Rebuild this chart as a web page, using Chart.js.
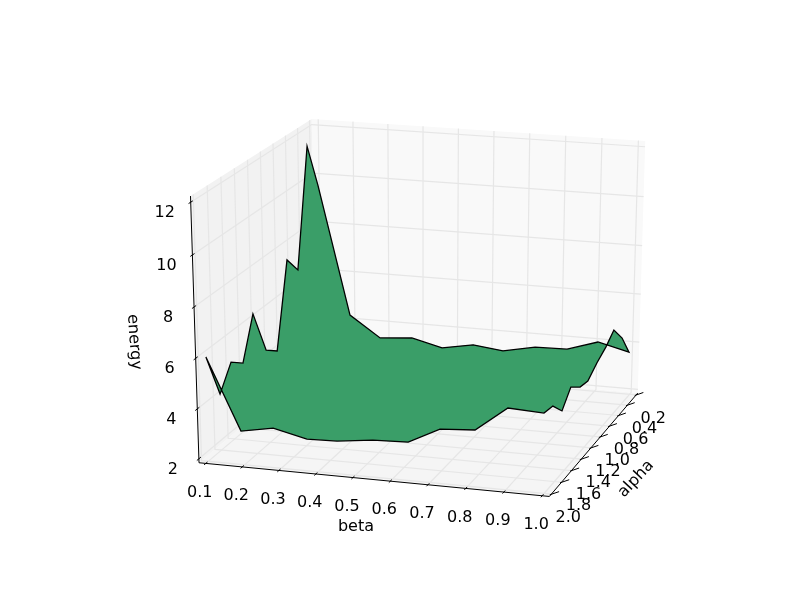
<!DOCTYPE html>
<html>
<head>
<meta charset="utf-8">
<script src="https://cdn.jsdelivr.net/npm/chart.js@4"></script>
<style>
  body { margin: 0; background: #fff; }
  canvas { display: block; }
</style>
</head>
<body>
<canvas id="c" width="812" height="612"></canvas>
<script>
var betaTicks = [0.1, 0.2, 0.3, 0.4, 0.5, 0.6, 0.7, 0.8, 0.9, 1.0];
var alphaTicks = [0.2, 0.4, 0.6, 0.8, 1.0, 1.2, 1.4, 1.6, 1.8, 2.0];
var energyTicks = [2, 4, 6, 8, 10, 12];

// outline of the surface
var surfAlpha = [2.0, 2.0, 2.0, 2.0, 2.0, 2.0, 2.0, 2.0, 2.0, 2.0,
  1.9, 1.72, 1.55, 1.37, 1.2, 1.03, 0.85, 0.66, 0.48, 0.32,
  0.2, 0.2, 0.2, 0.2, 0.2, 0.2, 0.2, 0.2, 0.2, 0.2,
  0.26, 0.42, 0.56, 0.73, 0.89, 1.06, 1.27, 1.43, 1.62, 1.79];
var surfBeta = [0.102, 0.192, 0.280, 0.371, 0.452, 0.548, 0.642, 0.726, 0.818, 0.903,
  0.983, 0.982, 0.984, 0.983, 0.986, 0.985, 0.986, 0.986, 0.985, 0.989,
  0.995, 0.907, 0.820, 0.729, 0.637, 0.551, 0.461, 0.373, 0.280, 0.192,
  0.113, 0.111, 0.103, 0.102, 0.097, 0.096, 0.099, 0.097, 0.099, 0.098];
var surfEnergy = [6.00, 3.18, 3.42, 3.11, 3.14, 3.31, 3.36, 3.99, 4.08, 5.05,
  4.74, 4.62, 4.06, 4.62, 4.26, 4.14, 4.50, 4.76, 5.10, 4.45,
  3.62, 3.94, 3.53, 3.50, 3.23, 3.38, 3.14, 3.45, 3.34, 4.21,
  9.70, 11.55, 6.70, 7.43, 3.96, 4.34, 6.25, 4.57, 5.01, 4.08];

// view of the 3d box, same maths as mplot3d (elev 20, azim 17, dist 10)
var az = 17 * Math.PI / 180, el = 20 * Math.PI / 180;
var sa = Math.sin(az), ca = Math.cos(az), se = Math.sin(el), ce = Math.cos(el);
var Kx = 3430, Ky = 2647, X0 = 425.4, Y0 = 299.5;

function project(alpha, beta, energy) {
  var a = (alpha - 0.2) / 1.8 - 0.5;
  var b = (beta - 0.1) / 0.9 - 0.5;
  var c = (energy - 2.048) / 9.975 - 0.5;
  var d = 10 - (ce * ca * a + ce * sa * b + se * c);
  return { x: (-sa * a + ca * b) / d, y: (-se * ca * a - se * sa * b + ce * c) / d };
}

function seg(pts, color, w) {
  return { data: pts, showLine: true, borderColor: color, borderWidth: w, pointRadius: 0, tension: 0 };
}
function pane(pts, col) {
  var s = seg(pts, col, 0);
  s.polyFill = col;
  return s;
}

// box limits, 1/48 past the data on each side
var A0 = 0.2 - 1.8 / 48, A1 = 2.0 + 1.8 / 48;
var B0 = 0.1 - 0.9 / 48, B1 = 1.0 + 0.9 / 48;
var E0 = 2.048 - 9.975 / 48, E1 = 12.023 + 9.975 / 48;

// first dataset ends up on top
var ds = [];
var surface = seg(surfAlpha.map(function (v, i) { return project(v, surfBeta[i], surfEnergy[i]); }), "#000", 1.3);
surface.polyFill = "#3a9e68";
surface.data.push(surface.data[0]);
ds.push(surface);

ds.push(seg([project(A1, B0, E0), project(A1, B1, E0), project(A0, B1, E0)], "#000", 1));
ds.push(seg([project(A1, B0, E0), project(A1, B0, E1)], "#000", 1));
betaTicks.forEach(function (t) {
  ds.push(seg([project(A1 + 0.025, t, E0), project(A1 - 0.025, t, E0)], "#000", 1));
});
alphaTicks.forEach(function (t) {
  ds.push(seg([project(t, B1 - 0.004, E0 - 0.03), project(t, B1 + 0.02, E0 + 0.13)], "#000", 1));
});
energyTicks.forEach(function (t) {
  ds.push(seg([project(A1 + 0.03, B0, t), project(A1 - 0.03, B0, t)], "#000", 1));
});

betaTicks.forEach(function (t) {
  ds.push(seg([project(A1, t, E0), project(A0, t, E0), project(A0, t, E1)], "#e6e6e6", 1.2));
});
alphaTicks.forEach(function (t) {
  ds.push(seg([project(t, B1, E0), project(t, B0, E0), project(t, B0, E1)], "#e6e6e6", 1.2));
});
energyTicks.forEach(function (t) {
  ds.push(seg([project(A1, B0, t), project(A0, B0, t), project(A0, B1, t)], "#e6e6e6", 1.2));
});

ds.push(pane([project(A0, B0, E0), project(A0, B1, E0), project(A0, B1, E1), project(A0, B0, E1)], "#f9f9f9"));
ds.push(pane([project(A0, B0, E0), project(A1, B0, E0), project(A1, B0, E1), project(A0, B0, E1)], "#f2f2f2"));
ds.push(pane([project(A0, B0, E0), project(A1, B0, E0), project(A1, B1, E0), project(A0, B1, E0)], "#f5f5f5"));

var polyFill = {
  id: "polyFill",
  beforeDatasetDraw: function (chart, args) {
    var col = chart.data.datasets[args.index].polyFill;
    if (!col) return;
    var ctx = chart.ctx;
    ctx.save();
    ctx.beginPath();
    args.meta.data.forEach(function (p, i) {
      if (i) ctx.lineTo(p.x, p.y); else ctx.moveTo(p.x, p.y);
    });
    ctx.closePath();
    ctx.fillStyle = col;
    ctx.fill();
    ctx.restore();
  }
};

var boxLabels = {
  id: "boxLabels",
  afterDraw: function (chart) {
    var ctx = chart.ctx, sx = chart.scales.x, sy = chart.scales.y;
    function put(p, dx, dy, txt) {
      ctx.textAlign = "center";
      ctx.fillText(txt, sx.getPixelForValue(p.x) + dx, sy.getPixelForValue(p.y) + dy);
    }
    function title(x, y, rot, txt) {
      ctx.save();
      ctx.translate(x, y);
      ctx.rotate(rot * Math.PI / 180);
      ctx.textAlign = "center";
      ctx.fillText(txt, 0, 0);
      ctx.restore();
    }
    ctx.save();
    ctx.fillStyle = "#000";
    ctx.font = '16px "DejaVu Sans"';
    ctx.textBaseline = "middle";
    betaTicks.forEach(function (t) { put(project(A1, t, E0), -6, 29, t.toFixed(1)); });
    alphaTicks.forEach(function (t) { put(project(t, B1, E0), 17, 24, t.toFixed(1)); });
    energyTicks.forEach(function (t) { put(project(A1, B0, t), -26, 11, String(t)); });
    title(356, 527, 0, "beta");
    title(636, 479, -47, "alpha");
    title(134, 342, 86, "energy");
    ctx.restore();
  }
};

new Chart("c", {
  type: "scatter",
  data: { datasets: ds },
  plugins: [polyFill, boxLabels],
  options: {
    responsive: false,
    animation: false,
    layout: { padding: 0 },
    plugins: { legend: { display: false }, tooltip: { enabled: false } },
    scales: {
      x: { display: false, min: -X0 / Kx, max: (812 - X0) / Kx },
      y: { display: false, min: (Y0 - 612) / Ky, max: Y0 / Ky }
    }
  }
});
</script>
</body>
</html>
